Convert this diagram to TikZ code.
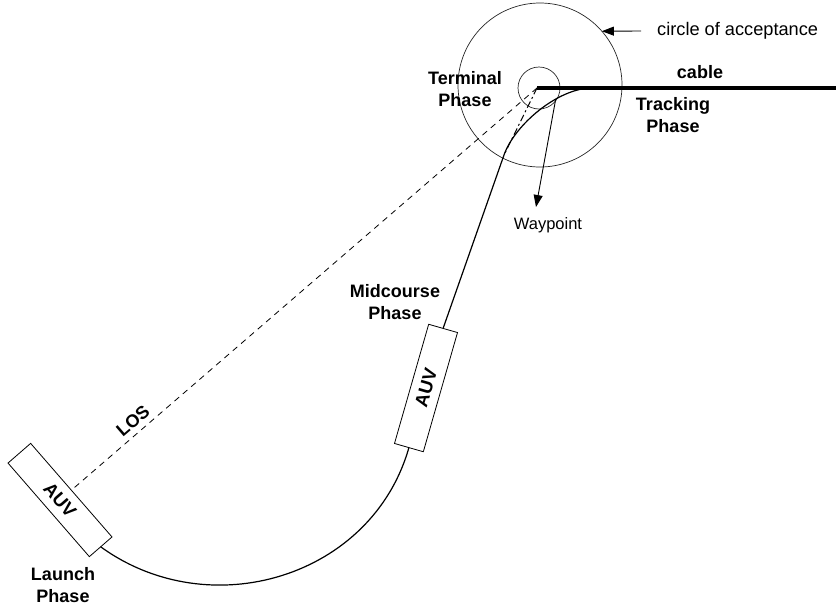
\documentclass[tikz,border=0pt]{standalone}
\usepackage{fontspec}
\setmainfont{Liberation Sans}
\usetikzlibrary{arrows.meta,calc}
\begin{document}
\begin{tikzpicture}[x=1pt,y=-1pt,
  lbl/.style={font=\bfseries\fontsize{18}{22}\selectfont, align=center, inner sep=0pt},
  txt/.style={font=\fontsize{18.2}{20}\selectfont, inner sep=0pt},
  auv/.style={draw, line width=0.8pt, minimum width=124pt, minimum height=30pt, inner sep=0pt, outer sep=0pt, font=\bfseries\fontsize{18.5}{20}\selectfont},
  traj/.style={line width=1.2pt},
  ring/.style={circle, draw, black!85, line width=0.7pt, inner sep=0pt, outer sep=0pt},
  arr/.style={line width=0.9pt, -{Triangle[length=12pt,width=9pt]}},
  los/.style={line width=0.8pt, dash pattern=on 6pt off 5pt},
  dashdot/.style={line width=1pt, dash pattern=on 7pt off 3pt on 2pt off 3pt}]
\useasboundingbox (0,0) rectangle (836,606);
% circles
\node[ring, minimum size=164pt] (acc) at (540,85) {};
\node[ring, minimum size=42pt] (wc) at (539,88) {};
% coordinates
\coordinate (w) at (537,88);
\coordinate (J) at (504,155);
\coordinate (T) at (592,88);
\coordinate (cend) at (836,88);
\coordinate (wpt) at (536,207);
\coordinate (coat) at (641,31);
% AUV boxes
\node[auv, rotate=-49] (launch) at (60,500) {AUV};
\node[auv, rotate=74] (mid) at (426,388) {AUV};
% LOS and dash-dot
\draw[los] (w) -- (launch);
\draw[dashdot] (w) -- (J);
% trajectory
\draw[traj] (launch.east) .. controls ($(launch.east)+(109,79)$) and ($(mid.west)+(-37,130)$) .. (mid.west);
\draw[traj] (mid.east) -- (J) .. controls ($(J)+(10.6,-30.2)$) and ($(T)+(-34,0)$) .. (T) coordinate[pos=0.66] (wpa);
% cable
\draw[line width=4.3pt] (w) -- (cend);
% arrows
\draw[arr] (wpa) -- (wpt);
\node[txt, anchor=west] (coa) at (657,31) {circle of acceptance};
\draw[arr] (coat) -- (acc.41);
% labels
\node[lbl] (term) at (465,89) {Terminal\\Phase};
\node[lbl] (track) at (673,115) {Tracking\\Phase};
\node[lbl] (midl) at (395,302) {Midcourse\\Phase};
\node[lbl] (launchl) at (63,585) {Launch\\Phase};
\node[lbl] (cab) at (700,72) {cable};
\node[txt, font=\fontsize{16.5}{20}\selectfont] (wayl) at (548,225) {Waypoint};
\node[lbl, rotate=40.6] (losl) at (133,421) {LOS};
\end{tikzpicture}
\end{document}
